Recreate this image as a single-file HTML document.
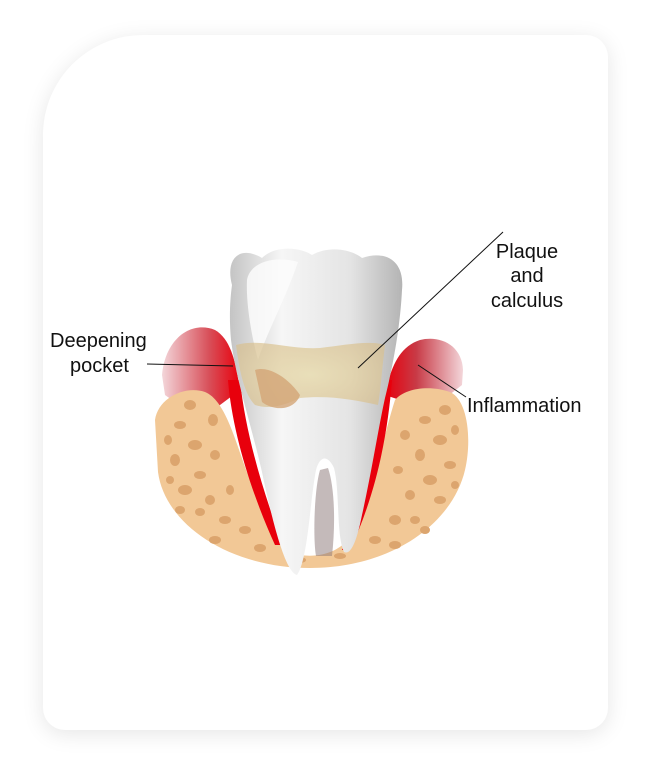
<!DOCTYPE html>
<html><head><style>
body{margin:0;background:#fff;width:652px;height:784px;overflow:hidden;font-family:"Liberation Sans",sans-serif;}
.card{position:absolute;left:43px;top:35px;width:565px;height:695px;background:#fff;border-radius:100px 22px 22px 22px;box-shadow:0 4px 22px rgba(0,0,0,0.10);}
svg{position:absolute;left:0;top:0}
</style></head><body>
<div class="card"></div>
<svg width="652" height="784" viewBox="0 0 652 784">
<defs>
<linearGradient id="gl" x1="0" x2="1"><stop offset="0" stop-color="#f3d6da"/><stop offset="0.6" stop-color="#d8505a"/><stop offset="1" stop-color="#e8000c"/></linearGradient>
<linearGradient id="gr" x1="1" x2="0"><stop offset="0" stop-color="#f3d6da"/><stop offset="0.6" stop-color="#c83a46"/><stop offset="1" stop-color="#e8000c"/></linearGradient>
<linearGradient id="tooth" x1="0" x2="1"><stop offset="0" stop-color="#c4c4c4"/><stop offset="0.3" stop-color="#f6f6f6"/><stop offset="0.7" stop-color="#e4e4e4"/><stop offset="1" stop-color="#b4b4b4"/></linearGradient>
<radialGradient id="plq" cx="0.5" cy="0.5" r="0.6"><stop offset="0" stop-color="#e8dcb0"/><stop offset="1" stop-color="#d9c08e" stop-opacity="0.8"/></radialGradient>
</defs>
<path d="M162,375 C165,340 190,320 215,330 C232,340 236,365 240,390 L200,420 L165,395 Z" fill="url(#gl)"/>
<path d="M463,370 C462,345 440,335 420,340 C398,347 390,370 385,395 L430,410 L462,385 Z" fill="url(#gr)"/>
<path d="M155,420 C158,398 185,385 205,392 C225,400 235,440 248,475 C262,512 275,545 300,555 C320,558 340,552 352,535 C372,500 382,440 395,400 C405,388 430,385 450,392 C468,400 472,440 465,470 C452,525 390,568 310,568 C230,568 165,525 158,472 Z" fill="#f2c896"/>
<g fill="#dca56e">
<ellipse cx="180" cy="425" rx="6" ry="4"/><ellipse cx="195" cy="445" rx="7" ry="5"/><ellipse cx="175" cy="460" rx="5" ry="6"/><ellipse cx="200" cy="475" rx="6" ry="4"/><ellipse cx="185" cy="490" rx="7" ry="5"/><ellipse cx="210" cy="500" rx="5" ry="5"/><ellipse cx="225" cy="520" rx="6" ry="4"/><ellipse cx="200" cy="512" rx="5" ry="4"/><ellipse cx="190" cy="405" rx="6" ry="5"/><ellipse cx="213" cy="420" rx="5" ry="6"/><ellipse cx="215" cy="455" rx="5" ry="5"/><ellipse cx="245" cy="530" rx="6" ry="4"/><ellipse cx="168" cy="440" rx="4" ry="5"/><ellipse cx="180" cy="510" rx="5" ry="4"/><ellipse cx="230" cy="490" rx="4" ry="5"/><ellipse cx="215" cy="540" rx="6" ry="4"/><ellipse cx="260" cy="548" rx="6" ry="4"/><ellipse cx="170" cy="480" rx="4" ry="4"/>
<ellipse cx="425" cy="420" rx="6" ry="4"/><ellipse cx="445" cy="410" rx="6" ry="5"/><ellipse cx="440" cy="440" rx="7" ry="5"/><ellipse cx="420" cy="455" rx="5" ry="6"/><ellipse cx="450" cy="465" rx="6" ry="4"/><ellipse cx="430" cy="480" rx="7" ry="5"/><ellipse cx="410" cy="495" rx="5" ry="5"/><ellipse cx="440" cy="500" rx="6" ry="4"/><ellipse cx="395" cy="520" rx="6" ry="5"/><ellipse cx="415" cy="520" rx="5" ry="4"/><ellipse cx="405" cy="435" rx="5" ry="5"/><ellipse cx="375" cy="540" rx="6" ry="4"/><ellipse cx="300" cy="560" rx="6" ry="3"/><ellipse cx="340" cy="556" rx="6" ry="3"/><ellipse cx="455" cy="430" rx="4" ry="5"/><ellipse cx="398" cy="470" rx="5" ry="4"/><ellipse cx="425" cy="530" rx="5" ry="4"/><ellipse cx="455" cy="485" rx="4" ry="4"/><ellipse cx="395" cy="545" rx="6" ry="4"/>
</g>
<path d="M228,380 C232,430 250,490 275,545 L283,545 C262,490 245,430 240,380 Z" fill="#e8000c"/>
<path d="M392,380 C388,430 378,490 350,550 L342,550 C365,490 378,430 382,380 Z" fill="#e8000c"/>
<path d="M232,285 C225,258 240,245 262,258 C275,245 300,247 312,255 C330,245 352,250 362,258 C385,250 405,260 402,290 C400,330 392,370 385,398 C378,430 372,470 362,515 C356,545 350,555 344,552 C336,535 340,490 334,468 C328,455 320,455 316,470 C310,500 308,560 297,575 C285,572 272,520 262,472 C250,420 236,380 231,340 C229,318 230,300 232,285 Z" fill="url(#tooth)"/>
<path d="M247,280 C250,262 275,255 298,262 C285,300 268,330 258,360 C250,330 246,300 247,280 Z" fill="#fbfbfb" opacity="0.85"/>
<path d="M320,470 C314,490 313,540 316,556 L332,556 C336,520 334,485 328,468 Z" fill="#8a7676" opacity="0.5"/>
<path d="M236,345 C260,338 290,350 320,348 C345,345 370,340 385,345 C382,370 380,395 378,405 C355,400 330,395 300,398 C285,405 270,410 255,405 C245,395 240,375 236,345 Z" fill="url(#plq)" opacity="0.85"/>
<path d="M255,370 C270,365 290,380 300,395 C295,410 275,412 262,402 Z" fill="#d3a577" opacity="0.8"/>
<g stroke="#111" stroke-width="1" fill="none">
<line x1="147" y1="364" x2="233" y2="366"/>
<line x1="503" y1="232" x2="358" y2="368"/>
<line x1="418" y1="365" x2="466" y2="397"/>
</g>
<g font-family="Liberation Sans, sans-serif" font-size="20" fill="#111">
<text x="50" y="347">Deepening</text>
<text x="70" y="372">pocket</text>
<text x="527" y="258" text-anchor="middle">Plaque</text>
<text x="527" y="282" text-anchor="middle">and</text>
<text x="527" y="307" text-anchor="middle">calculus</text>
<text x="467" y="412">Inflammation</text>
</g>
</svg>
</body></html>
